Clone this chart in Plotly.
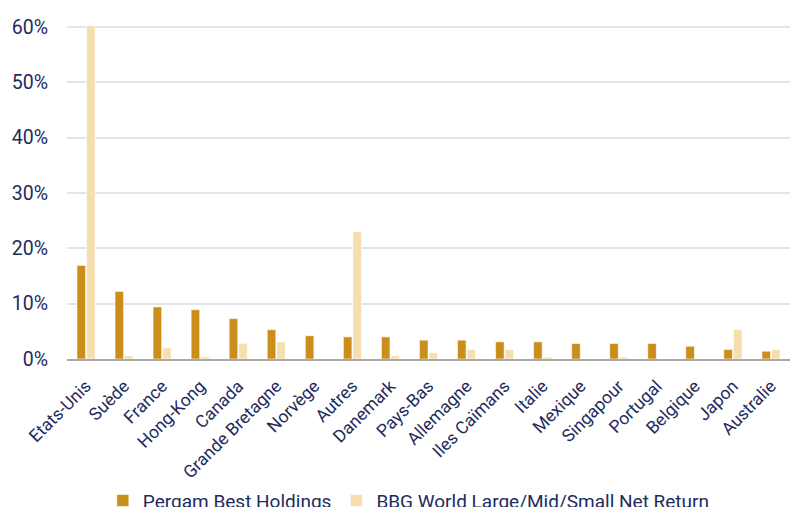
import plotly.graph_objects as go

categories = ["Etats-Unis", "Suède", "France", "Hong-Kong", "Canada", "Grande Bretagne",
              "Norvège", "Autres", "Danemark", "Pays-Bas", "Allemagne", "Iles Caïmans",
              "Italie", "Mexique", "Singapour", "Portugal", "Belgique", "Japon", "Australie"]
pergam = [16.9, 12.2, 9.4, 8.9, 7.3, 5.3, 4.2, 4.0, 4.0, 3.4, 3.4, 3.1, 3.1, 2.8, 2.8, 2.8, 2.3, 1.7, 1.4]
bbg = [60.2, 0.6, 2.0, 0.4, 2.8, 3.1, 0.0, 23.0, 0.6, 1.1, 1.7, 1.7, 0.35, 0.0, 0.35, 0.0, 0.0, 5.3, 1.7]
y_ticks = [0, 10, 20, 30, 40, 50, 60]

navy = "#1D2C5E"
gold = "#CB8E1A"
light = "#F6DFAE"

fig = go.Figure()
fig.add_trace(go.Bar(x=categories, y=pergam, name="Pergam Best Holdings",
                     marker=dict(color=gold, line=dict(color="rgba(255,255,255,0.7)", width=0.8))))
fig.add_trace(go.Bar(x=categories, y=bbg, name="BBG World Large/Mid/Small Net Return",
                     marker=dict(color=light, line=dict(color="rgba(255,255,255,0.7)", width=0.8))))

fig.update_layout(
    width=791, height=507,
    margin=dict(l=67, r=1, t=24, b=148),
    paper_bgcolor="white", plot_bgcolor="white",
    barmode="group", bargap=0.5, bargroupgap=0.1,
    font=dict(family="Roboto", color=navy),
    showlegend=True,
    legend=dict(orientation="h", xref="container", yref="container",
                x=0.13, xanchor="left", y=0.05, yanchor="top",
                font=dict(size=19, color=navy), itemwidth=30),
    xaxis=dict(tickangle=-45, tickfont=dict(size=17.5, color=navy), showline=True,
               linecolor="#A9A9A9", linewidth=2, ticks="", showgrid=False, automargin=False,
               ticklabelstandoff=8),
    yaxis=dict(range=[0, 60.5], tickvals=y_ticks, ticktext=[f"{v}%" for v in y_ticks],
               tickfont=dict(size=19.5, color=navy), showgrid=True, gridcolor="#E4E4E4",
               gridwidth=1.5, zeroline=False, ticks="", ticklabelstandoff=18, automargin=False),
)

fig.write_html("out.html", config={"displayModeBar": False},
               post_script="document.body.style.margin='0';document.body.style.overflow='hidden';")
